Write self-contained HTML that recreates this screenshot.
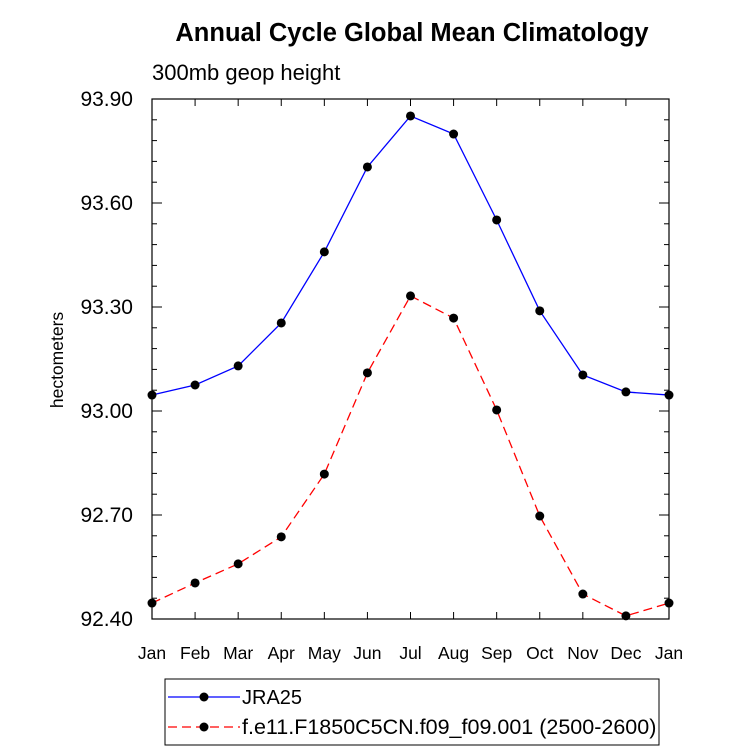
<!DOCTYPE html>
<html><head><meta charset="utf-8"><style>body{margin:0;background:#fff}svg{display:block;font-family:"Liberation Sans",Arial,sans-serif}</style></head>
<body>
<svg width="733" height="754" viewBox="0 0 733 754">
<text x="412" y="41" text-anchor="middle" font-size="25.5" font-weight="bold">Annual Cycle Global Mean Climatology</text>
<text x="152" y="80" font-size="22">300mb geop height</text>
<text transform="translate(63,360) rotate(-90)" text-anchor="middle" font-size="17.5">hectometers</text>
<g id="axes"></g>
<g id="series"></g>
<rect x="165" y="679" width="494" height="66" fill="none" stroke="#000" stroke-width="1"/>
<g>
<line x1="168" y1="697" x2="240" y2="697" stroke="#00f" stroke-width="1.3"/><circle cx="204" cy="697" r="4.5" fill="#000"/>
<text x="242" y="704" font-size="20">JRA25</text></g>
<g>
<line x1="168" y1="727" x2="240" y2="727" stroke="#f00" stroke-width="1.3" stroke-dasharray="9,5"/><circle cx="204" cy="727" r="4.5" fill="#000"/>
<text x="242" y="734" font-size="21.5">f.e11.F1850C5CN.f09_f09.001 (2500-2600)</text></g>
</svg>
<script>
const months=["Jan","Feb","Mar","Apr","May","Jun","Jul","Aug","Sep","Oct","Nov","Dec","Jan"];
const jra25=[93.046,93.075,93.130,93.254,93.459,93.704,93.851,93.799,93.551,93.289,93.104,93.055,93.046];
const model=[92.446,92.504,92.559,92.637,92.818,93.110,93.332,93.268,93.003,92.697,92.472,92.409,92.446];
const yTicks=["92.40","92.70","93.00","93.30","93.60","93.90"];
const L=152,R=669,T=99,B=619,ymin=92.4,ymax=93.9;
const xs=i=>L+(R-L)*i/(months.length-1);
const ys=v=>B-(B-T)*(v-ymin)/(ymax-ymin);
const NS="http://www.w3.org/2000/svg";
function mk(t,a,p){const e=document.createElementNS(NS,t);for(const k in a)e.setAttribute(k,a[k]);p.appendChild(e);return e;}
const ax=document.getElementById('axes');
const fr=mk('rect',{x:L,y:T,width:R-L,height:B-T,fill:'none',stroke:'#000','stroke-width':1.2},ax);


months.forEach((m,i)=>{const x=xs(i);
mk('line',{x1:x,y1:B,x2:x,y2:B-7,stroke:'#000'},ax);
mk('line',{x1:x,y1:T,x2:x,y2:T+7,stroke:'#000'},ax);
const t=mk('text',{x:x,y:B+40,'text-anchor':'middle','font-size':17.5},ax);t.textContent=m;

});
for(let v=ymin;v<=ymax+1e-6;v+=0.06){const y=ys(v);
mk('line',{x1:L,y1:y,x2:L+5,y2:y,stroke:'#000'},ax);mk('line',{x1:R,y1:y,x2:R-5,y2:y,stroke:'#000'},ax);}
yTicks.forEach(s=>{const y=ys(parseFloat(s));
mk('line',{x1:L,y1:y,x2:L+10,y2:y,stroke:'#000'},ax);mk('line',{x1:R,y1:y,x2:R-10,y2:y,stroke:'#000'},ax);
const t=mk('text',{x:L-19,y:y+7,'text-anchor':'end','font-size':21},ax);t.textContent=s;

});
const sg=document.getElementById('series');
function draw(vals,color,dash,name){const g=mk('g',{},sg);


const p=mk('polyline',{points:vals.map((v,i)=>xs(i)+','+ys(v)).join(' '),fill:'none',stroke:color,'stroke-width':1.3},g);
if(dash)p.setAttribute('stroke-dasharray',dash);
vals.forEach((v,i)=>{const c=mk('circle',{cx:xs(i),cy:ys(v),r:4.5,fill:'#000'},g);

});}
draw(jra25,'#00f',null,'series-jra25');
draw(model,'#f00','9,5','series-model');
</script>
</body></html>
